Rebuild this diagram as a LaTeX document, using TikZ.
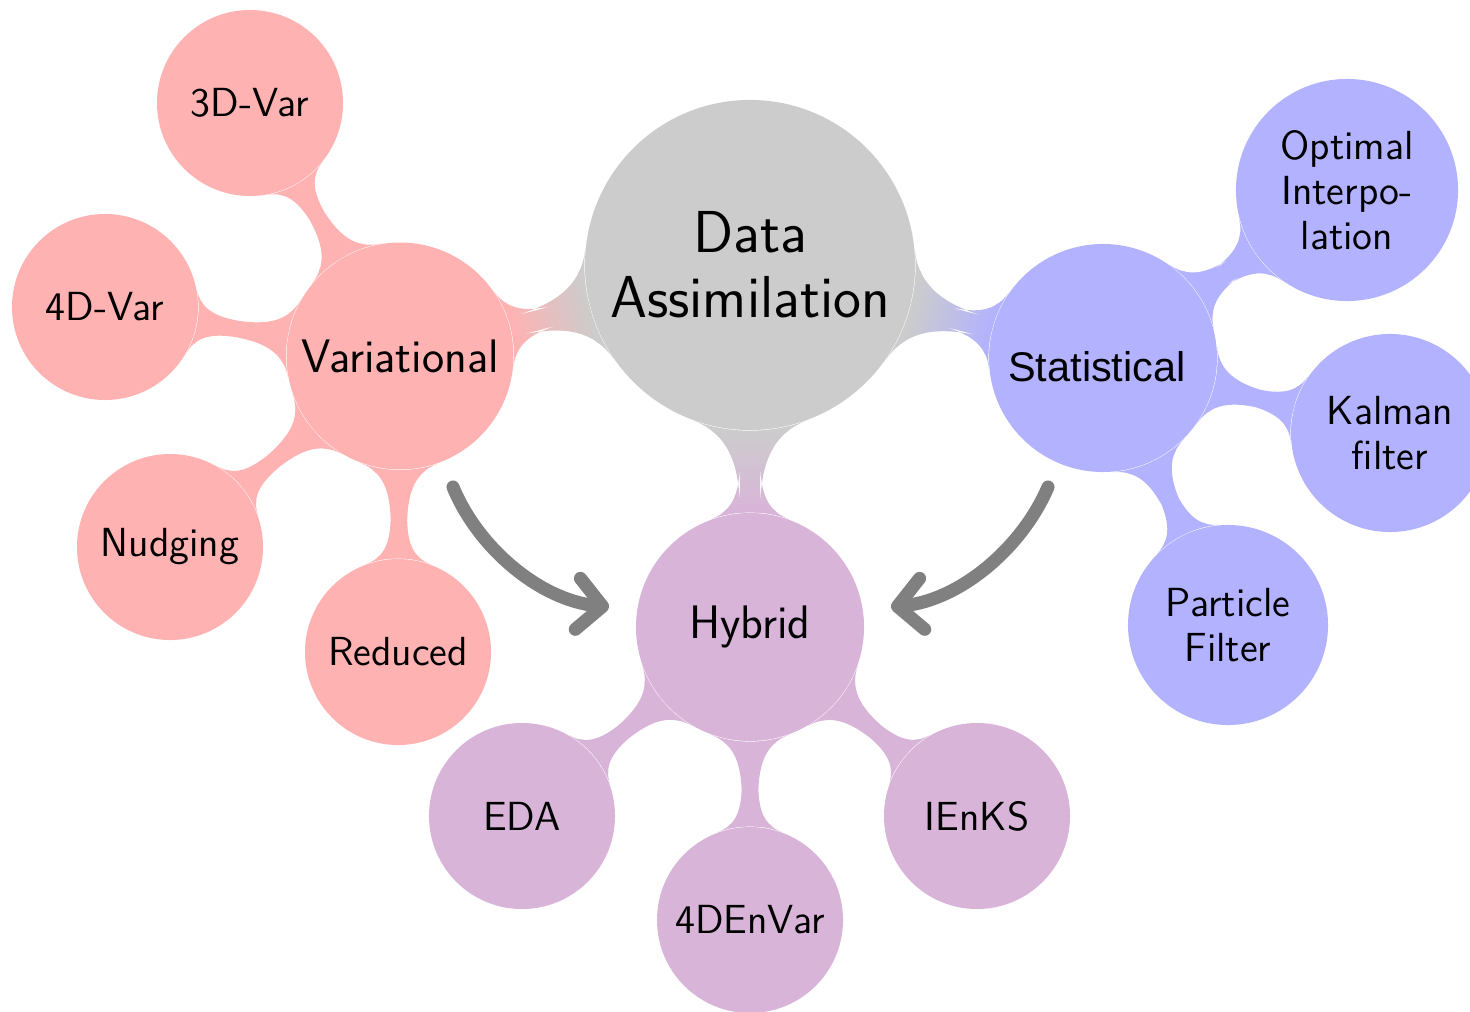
\documentclass[tikz,border=0pt]{standalone}
\usepackage{fontspec}
\setsansfont{Latin Modern Sans}
\newfontfamily\arialfont{Liberation Sans}
\usetikzlibrary{mindmap,arrows.meta,backgrounds}
\definecolor{varc}{RGB}{255,178,178}
\definecolor{statc}{RGB}{178,178,255}
\definecolor{hybc}{RGB}{217,180,217}
\definecolor{rootc}{RGB}{204,204,204}
\definecolor{arrc}{RGB}{128,128,128}
\tikzset{
  bubble/.style={circle, inner sep=0pt, align=center, text=black, font=\sffamily},
  rootbubble/.style={bubble, fill=rootc, minimum size=4cm, font=\sffamily\fontsize{20.4}{22.4}\selectfont},
  mainbubble/.style={bubble, minimum size=2.75cm, font=\sffamily\fontsize{16.2}{18}\selectfont},
  leafbubble/.style={bubble, minimum size=2.254cm, font=\sffamily\fontsize{14}{15.5}\selectfont},
  flowarrow/.style={draw=arrc, line width=4.5pt, line cap=round, -{Straight Barb[length=0.3cm,width=0.62cm,round]}},
}
\begin{document}
\begin{tikzpicture}[x=0.01212cm, y=-0.01212cm]
\useasboundingbox (0,0) rectangle (1470,1011);
% root and main branches
\node[rootbubble] (root) at (750,265) {Data\\Assimilation};
\node[mainbubble, fill=varc] (var) at (400,356) {Variational};
\node[mainbubble, fill=statc, minimum size=2.763cm, font=\arialfont\fontsize{14.3}{16}\selectfont] (stat) at (1103,358) {\raisebox{-0.109cm}[\height][\depth]{\kern-0.073cm Statistical\kern0.073cm}};
\node[mainbubble, fill=hybc, minimum size=2.763cm] (hyb) at (750,627) {Hybrid};
% variational leaves
\node[leafbubble, fill=varc] (v3) at (250,103) {3D-Var};
\node[leafbubble, fill=varc] (v4) at (105,307) {4D-Var};
\node[leafbubble, fill=varc] (nud) at (170,547) {Nudging};
\node[leafbubble, fill=varc] (red) at (398,652) {Reduced};
% statistical leaves
\node[leafbubble, fill=statc, minimum size=2.691cm] (oi) at (1347,190) {Optimal\\Interpo-\\lation};
\node[leafbubble, fill=statc, minimum size=2.4cm] (kal) at (1390,433) {Kalman\\filter};
\node[leafbubble, fill=statc, minimum size=2.424cm] (pf) at (1228,625) {Particle\\Filter};
% hybrid leaves
\node[leafbubble, fill=hybc] (eda) at (522,816) {EDA};
\node[leafbubble, fill=hybc] (env) at (750,920) {4DEnVar};
\node[leafbubble, fill=hybc] (ienks) at (977,816) {IEnKS};
% connection bars
\begin{pgfonlayer}{background}
\path (root) to[circle connection bar switch color=from (rootc) to (varc)] (var);
\path (root) to[circle connection bar switch color=from (rootc) to (statc)] (stat);
\path (root) to[circle connection bar switch color=from (rootc) to (hybc)] (hyb);
\path (var) to[circle connection bar switch color=from (varc) to (varc)] (v3);
\path (var) to[circle connection bar switch color=from (varc) to (varc)] (v4);
\path (var) to[circle connection bar switch color=from (varc) to (varc)] (nud);
\path (var) to[circle connection bar switch color=from (varc) to (varc)] (red);
\path (stat) to[circle connection bar switch color=from (statc) to (statc)] (oi);
\path (stat) to[circle connection bar switch color=from (statc) to (statc)] (kal);
\path (stat) to[circle connection bar switch color=from (statc) to (statc)] (pf);
\path (hyb) to[circle connection bar switch color=from (hybc) to (hybc)] (eda);
\path (hyb) to[circle connection bar switch color=from (hybc) to (hybc)] (env);
\path (hyb) to[circle connection bar switch color=from (hybc) to (hybc)] (ienks);
\end{pgfonlayer}
% arrows
\coordinate (la) at (453,487);
\coordinate (lb) at (609,607);
\coordinate (ra) at (1048,487);
\coordinate (rb) at (891,607);
\draw[flowarrow] (la) .. controls (478,548) and (540,600) .. (lb);
\draw[flowarrow] (ra) .. controls (1022,548) and (960,600) .. (rb);
\end{tikzpicture}
\end{document}
